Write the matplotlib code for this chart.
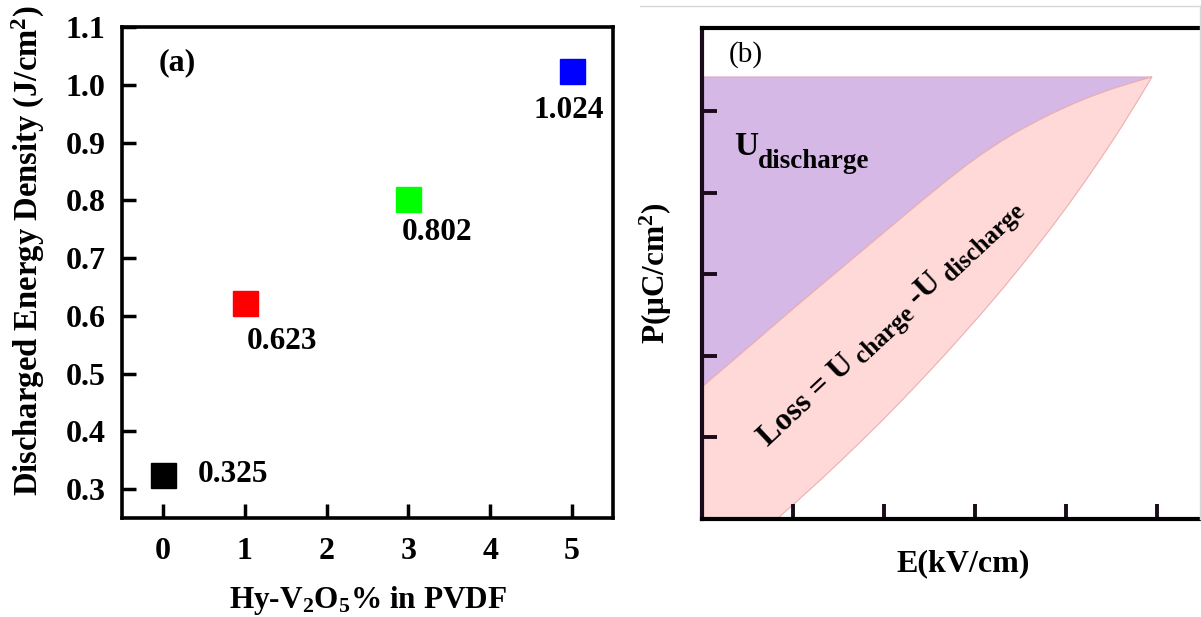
import matplotlib
matplotlib.use("Agg")
import numpy as np
import matplotlib.pyplot as plt
from matplotlib.lines import Line2D
from matplotlib.path import Path
from matplotlib.patches import PathPatch
from matplotlib.transforms import offset_copy

plt.rcParams['font.family'] = ['Liberation Serif', 'DejaVu Serif']
plt.rcParams['font.weight'] = 'bold'
plt.rcParams['mathtext.fontset'] = 'custom'
plt.rcParams['mathtext.rm'] = 'Liberation Serif:bold'
plt.rcParams['mathtext.bf'] = 'Liberation Serif:bold'
plt.rcParams['mathtext.it'] = 'Liberation Serif:bold'

# ---- panel (a) data ----
loading = [0, 1, 3, 5]
energy = [0.325, 0.623, 0.802, 1.024]
point_colors = ['#000000', '#ff0000', '#00ff00', '#0000ff']
value_labels = ['0.325', '0.623', '0.802', '1.024']
label_x = [0.43, 1.03, 2.92, 4.53]
label_y = [0.325, 0.555, 0.745, 0.955]
xticks_a = [0, 1, 2, 3, 4, 5]
yticks_a = [0.3, 0.4, 0.5, 0.6, 0.7, 0.8, 0.9, 1.0, 1.1]

# ---- panel (b) schematic data ----
charge_E = [0.000, 0.527, 1.077, 1.626, 2.176, 2.615, 3.000, 3.385, 3.769, 4.154, 4.538, 4.945]
charge_P = [1.618, 2.120, 2.647, 3.162, 3.676, 4.081, 4.412, 4.694, 4.926, 5.123, 5.282, 5.417]
disch_E = [0.824, 1.297, 1.769, 2.143, 2.505, 2.868, 3.242, 3.604, 3.945, 4.275, 4.615, 4.945]
disch_P = [0.000, 0.474, 0.975, 1.392, 1.817, 2.262, 2.741, 3.235, 3.729, 4.244, 4.814, 5.417]
P_max = 5.417
ticks_b = [1, 2, 3, 4, 5]

W, H = 1201, 617
fig = plt.figure(figsize=(W / 100, H / 100), dpi=100)
renderer = fig.canvas.get_renderer()

# ---------------- panel (a) ----------------
axa = fig.add_axes([122 / W, (H - 518) / H, 491 / W, 491 / H])
for x, y, c in zip(loading, energy, point_colors):
    axa.plot([x], [y], marker='s', markersize=18, color=c, linestyle='none')
for tx, ty, t in zip(label_x, label_y, value_labels):
    axa.text(tx, ty, t, fontsize=22.5, fontweight='bold', ha='left', va='center')
axa.text(0.18, 1.038, '(a)', fontsize=23, fontweight='bold', ha='center', va='center')
axa.set_xlim(-0.5, 5.5)
axa.set_ylim(0.25, 1.1)
axa.set_xticks(xticks_a)
axa.set_yticks(yticks_a)
axa.set_yticklabels([f'{v:.1f}' for v in yticks_a])
axa.tick_params(direction='in', length=10, width=2.5, labelsize=23,
                top=False, right=False)
axa.tick_params(axis='x', pad=14)
axa.tick_params(axis='y', pad=12)
for lab in axa.get_xticklabels() + axa.get_yticklabels():
    lab.set_fontweight('bold')
for s in axa.spines.values():
    s.set_linewidth(2.6)
axa.set_ylabel(r'Discharged Energy Density (J/cm$^{2}$)', fontsize=23.5, fontweight='bold')
axa.yaxis.set_label_coords(-0.152, 0.545)
axa.set_xlabel(r'Hy-V$_{2}$O$_{5}$% in PVDF', fontsize=22.5, fontweight='bold')
axa.xaxis.set_label_coords(0.5, -0.135)

# ---------------- panel (b) ----------------
x0b = 702
pxE, pxP = 91.0, 81.6
axb = fig.add_axes([x0b / W, (H - 519) / H, (1205 - x0b) / W, 491 / H])
axb.set_xlim(0, (1205 - x0b) / pxE)
axb.set_ylim(0, 491 / pxP)


def smooth_through(xs, ys):
    """Cubic Bezier segments passing through the given points (drawing only)."""
    pts = np.column_stack([xs, ys]).astype(float)
    n = len(pts)
    verts, codes = [], []
    for i in range(n - 1):
        p0 = pts[i - 1] if i > 0 else pts[i]
        p1, p2 = pts[i], pts[i + 1]
        p3 = pts[i + 2] if i + 2 < n else pts[i + 1]
        verts += [p1 + (p2 - p0) / 6.0, p2 - (p3 - p1) / 6.0, p2]
        codes += [Path.CURVE4] * 3
    return verts, codes


cv, cc = smooth_through(charge_E, charge_P)
dv, dc = smooth_through(disch_E[::-1], disch_P[::-1])

# purple: discharged energy region
pv = [(0, P_max), (0, charge_P[0])] + cv + [(0, P_max)]
pc = [Path.MOVETO, Path.LINETO] + cc + [Path.CLOSEPOLY]
axb.add_patch(PathPatch(Path(pv, pc), facecolor='#d5b8e5', edgecolor='#e2a9c4',
                        linewidth=0.8, zorder=1))
# pink: loss region
kv = [(0, 0), (0, charge_P[0])] + cv + dv + [(0, 0)]
kc = [Path.MOVETO, Path.LINETO] + cc + dc + [Path.CLOSEPOLY]
axb.add_patch(PathPatch(Path(kv, kc), facecolor='#ffd8d8', edgecolor='#eab0b0',
                        linewidth=0.8, zorder=1))

axb.text(0.48, 5.69, '(b)', fontsize=21, fontweight='normal', ha='center', va='center')
axb.text(0.35, 4.46, 'U', fontsize=24, fontweight='bold', ha='left', va='baseline')
axb.text(0.615, 4.30, 'discharge', fontsize=19.5, fontweight='bold', ha='left', va='baseline')

# rotated "Loss = U charge -U discharge" built from pieces along a 43 deg baseline
pieces = [('Loss = U', 23, 0.0), (' charge', 18, -4.0), (' -U', 23, 0.0), (' discharge', 18, -4.0)]
theta = np.deg2rad(43)
start_E, start_P = 0.72, 0.88
along = 0.0
for s, fs, dperp in pieces:
    dx = along * np.cos(theta) - dperp * np.sin(theta)
    dy = along * np.sin(theta) + dperp * np.cos(theta)
    tr = offset_copy(axb.transData, fig=fig, x=dx, y=dy, units='points')
    axb.text(start_E, start_P, s, fontsize=fs, fontweight='bold', rotation=43,
             rotation_mode='anchor', ha='left', va='baseline', transform=tr, zorder=4)
    tmp = fig.text(0, 0, s, fontsize=fs, fontweight='bold')
    along += tmp.get_window_extent(renderer).width * 72.0 / fig.dpi
    tmp.remove()

axb.set_xticks(ticks_b)
axb.set_yticks(ticks_b)
axb.set_xticklabels([])
axb.set_yticklabels([])
axb.tick_params(direction='in', length=11, width=2.8, top=False, right=False,
                colors='#1a0a1a')
for s in axb.spines.values():
    s.set_linewidth(3)
    s.set_zorder(3)
axb.spines['left'].set_color('#1a0a1a')
axb.set_xlabel('E(kV/cm)', fontsize=23, fontweight='bold')
axb.xaxis.set_label_coords(0.52, -0.062)
axb.set_ylabel(r'P($\mathrm{\mu}$C/cm$^{2}$)', fontsize=22.5, fontweight='bold')
axb.yaxis.set_label_coords(-0.056, 0.5)

# thin frame of the right image
fig.add_artist(Line2D([640 / W, 1], [1 - 6 / H, 1 - 6 / H], color='#d8d8d8', linewidth=1))
fig.add_artist(Line2D([1200 / W, 1200 / W], [1 - 6 / H, (H - 519) / H], color='#d8d8d8', linewidth=1))

fig.savefig('out.png', dpi=100)
